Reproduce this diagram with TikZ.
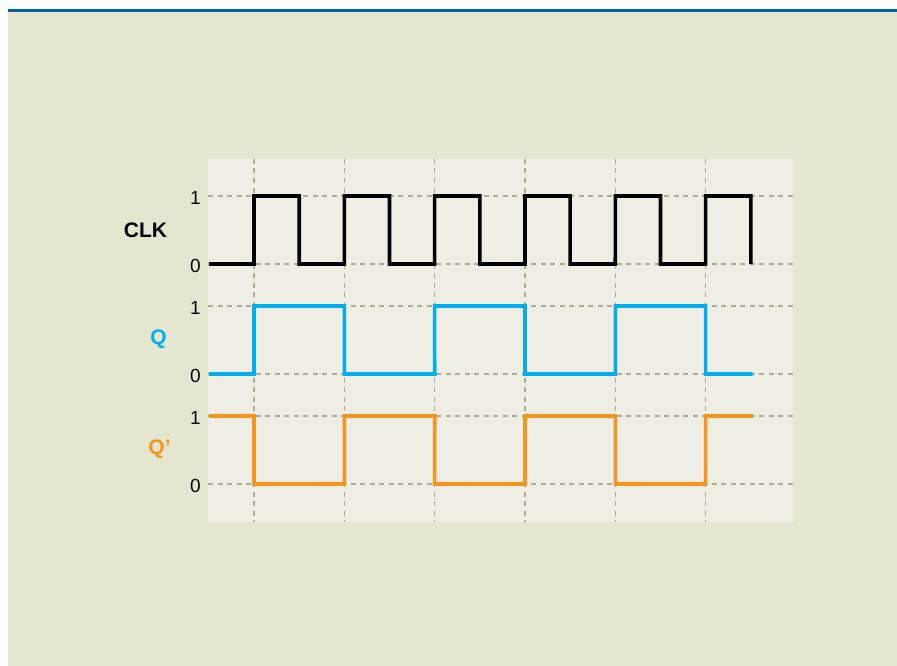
\documentclass[tikz,border=0pt]{standalone}
\usepackage{fontspec}
\setmainfont{Liberation Sans}
\definecolor{bgout}{RGB}{227,231,208}
\definecolor{bgpanel}{RGB}{238,238,228}
\definecolor{topblue}{RGB}{0,94,168}
\definecolor{gridc}{RGB}{172,172,150}
\definecolor{qblue}{RGB}{0,174,239}
\definecolor{qorange}{RGB}{247,148,29}
\tikzset{
  gridline/.style={gridc, line width=1.6pt, dash pattern=on 5pt off 4.5pt},
  wave/.style={line width=3.6pt, line join=miter, line cap=butt},
  digit/.style={font=\fontsize{19}{19}\selectfont, text=black, inner sep=0pt},
  siglabel/.style={font=\fontsize{21}{21}\selectfont\bfseries, inner sep=0pt},
}
\begin{document}
\begin{tikzpicture}[x=1pt,y=-1pt]
\useasboundingbox (0,0) rectangle (897,666);
\fill[white] (0,0) rectangle (897,666);
\fill[bgout] (8,10) rectangle (897,666);
\fill[topblue] (8,9) rectangle (897,12.5);
\fill[bgpanel] (208,159) rectangle (793,521.5);
% grid
\foreach \y in {196,264,306,374,416,484} \draw[gridline] (208,\y) -- (793,\y);
\foreach \i in {0,...,5} \draw[gridline] ({254+90.33*\i},159) -- ({254+90.33*\i},521.5);
% digits
\foreach \y/\t [count=\k] in {196/1,264/0,306/1,374/0,416/1,484/0}
  \node[digit] (d\k) at (195.5,\y+2) {\t};
% labels
\node[siglabel, text=black] (clk) at (145.5,230) {CLK};
\node[siglabel, text=qblue] (q) at (158.5,339.5) {Q};
\node[siglabel, text=qorange] (qn) at (159.5,449.5) {Q’};
% CLK
\draw[wave, black] (209,264) -- (254,264)
  \foreach \i in {0,...,5} {
    -- ({254+90.33*\i},196) -- ({299.2+90.33*\i},196) -- ({299.2+90.33*\i},264)
    \ifnum\i<5 -- ({344.3+90.33*\i},264) \fi
  };
% Q
\draw[wave, qblue] (209,374) -- (254,374)
  \foreach \i in {0,1,2} {
    -- ({254+180.67*\i},306) -- ({344.3+180.67*\i},306) -- ({344.3+180.67*\i},374)
    \ifnum\i<2 -- ({434.7+180.67*\i},374) \fi
  } -- (752.5,374);
% Q'
\draw[wave, qorange] (209,416) -- (254,416)
  \foreach \i in {0,1,2} {
    -- ({254+180.67*\i},484) -- ({344.3+180.67*\i},484) -- ({344.3+180.67*\i},416)
    \ifnum\i<2 -- ({434.7+180.67*\i},416) \fi
  } -- (752.5,416);
\end{tikzpicture}
\end{document}
